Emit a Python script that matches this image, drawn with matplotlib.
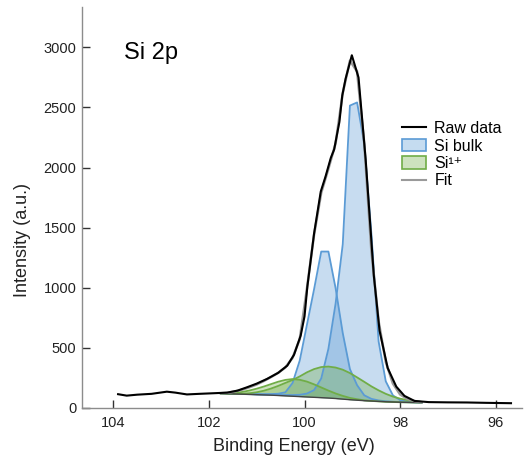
import numpy as np
import matplotlib
matplotlib.use("Agg")
import matplotlib.pyplot as plt
from matplotlib.lines import Line2D
from matplotlib.patches import Patch

plt.rcParams["font.family"] = ["Liberation Sans", "DejaVu Sans"]

# raw spectrum (binding energy in eV, counts)
raw_be = [103.9, 103.72, 103.5, 103.2, 102.88, 102.7, 102.46, 102.2, 101.9, 101.62,
          101.4, 101.2, 101.0, 100.78, 100.55, 100.36, 100.22, 100.08, 100.0, 99.94,
          99.8, 99.66, 99.56, 99.45, 99.38, 99.27, 99.21, 99.14, 99.01, 98.87,
          98.72, 98.55, 98.43, 98.26, 98.08, 97.91, 97.7, 97.4, 97.0, 96.6,
          96.2, 95.68]
raw_counts = [112, 100, 108, 115, 133, 125, 110, 115, 120, 125,
              142, 170, 200, 240, 290, 350, 440, 600, 760, 1010,
              1450, 1800, 1925, 2080, 2150, 2380, 2600, 2740, 2935, 2750,
              2064, 1100, 640, 330, 175, 98, 56, 46, 44, 43,
              40, 37]

# fitting window
fit_be = [101.75, 101.6, 101.45, 101.3, 101.15, 101.0, 100.85, 100.7, 100.55, 100.4,
          100.25, 100.1, 99.95, 99.8, 99.65, 99.5, 99.35, 99.2, 99.05, 98.9,
          98.75, 98.6, 98.45, 98.3, 98.15, 98.0, 97.85, 97.7, 97.55]
background = [118, 116, 114, 112, 110, 108, 106, 104, 101, 98,
              95, 92, 89, 86, 83, 80, 76, 71, 66, 62,
              58, 55, 52, 49, 47, 45, 44, 43, 42]
fit_total = [120, 124, 135, 150, 170, 193, 222, 255, 290, 335,
             415, 570, 990, 1440, 1790, 1990, 2200, 2620, 2890, 2800,
             2200, 1300, 720, 380, 200, 110, 72, 55, 45]

# components, above background
si_bulk_32 = [0, 0, 1, 1, 2, 2, 3, 4, 5, 7,
              10, 15, 28, 60, 160, 410, 790, 1290, 2450, 2480,
              2140, 1390, 500, 170, 55, 18, 7, 3, 1]
si_bulk_12 = [0, 1, 1, 2, 3, 4, 6, 9, 15, 30,
              110, 300, 600, 900, 1217, 1220, 920, 550, 255, 125,
              45, 18, 8, 4, 2, 1, 1, 0, 0]
si1_a = [0, 0, 1, 4, 10, 20, 35, 55, 80, 108,
         135, 168, 205, 235, 255, 262, 258, 245, 222, 190,
         157, 122, 92, 66, 45, 30, 19, 11, 5]
si1_b = [0, 3, 9, 19, 33, 50, 70, 92, 115, 133,
         143, 140, 128, 108, 85, 62, 42, 27, 15, 8,
         3, 1, 0, 0, 0, 0, 0, 0, 0]

BLUE = "#5b9bd5"
GREEN = "#70ad47"
SPINE = "#8c8c8c"
TEXT = "#222222"

fig = plt.figure(figsize=(5.25, 4.57), dpi=100)
ax = fig.add_axes([82 / 525, 1 - 408 / 457, 440 / 525, 401 / 457])

x = np.array(fit_be)
bg = np.array(background)

for comp, col in [(si_bulk_12, BLUE), (si_bulk_32, BLUE), (si1_b, GREEN), (si1_a, GREEN)]:
    top = bg + np.array(comp)
    ax.fill_between(x, bg, top, color=col, alpha=0.34, lw=0)
    ax.plot(x, top, color=col, lw=1.3)

ax.plot(x, bg, color="#444444", lw=1.0)
ax.plot(fit_be, fit_total, color="#9a9a9a", lw=1.8)
ax.plot(raw_be, raw_counts, color="black", lw=1.5)

ax.set_xlim(104.655, 95.45)
ax.set_ylim(-3, 3337)
ax.set_xticks([104, 102, 100, 98, 96])
ax.set_yticks([0, 500, 1000, 1500, 2000, 2500, 3000])

for side in ["top", "right"]:
    ax.spines[side].set_visible(False)
for side in ["left", "bottom"]:
    ax.spines[side].set_color(SPINE)
    ax.spines[side].set_linewidth(1.0)
ax.tick_params(direction="in", length=6, width=1, color="#333333",
               labelsize=10.5, labelcolor=TEXT)
ax.tick_params(axis="x", pad=6)
ax.tick_params(axis="y", pad=4)

ax.set_xlabel("Binding Energy (eV)", fontsize=13, color=TEXT)
ax.set_ylabel("Intensity (a.u.)", fontsize=13, color=TEXT)
ax.xaxis.set_label_coords(0.482, -0.075)
ax.yaxis.set_label_coords(-0.117, 0.42)

ax.text(0.095, 0.87, "Si 2p", transform=ax.transAxes, fontsize=17, color="black")

handles = [
    Line2D([], [], color="black", lw=1.5),
    Patch(facecolor=(0.357, 0.608, 0.835, 0.35), edgecolor=BLUE, lw=1.2),
    Patch(facecolor=(0.439, 0.678, 0.278, 0.35), edgecolor=GREEN, lw=1.2),
    Line2D([], [], color="#9a9a9a", lw=1.5),
]
ax.legend(handles, ["Raw data", "Si bulk", "Si¹⁺", "Fit"],
          loc="upper left", bbox_to_anchor=(0.71, 0.735), frameon=False,
          prop={"family": ["Liberation Sans", "DejaVu Sans"], "size": 11.5},
          handlelength=1.5, handleheight=0.8,
          handletextpad=0.5, labelspacing=0.15, borderpad=0)

fig.savefig("out.png", dpi=100)
